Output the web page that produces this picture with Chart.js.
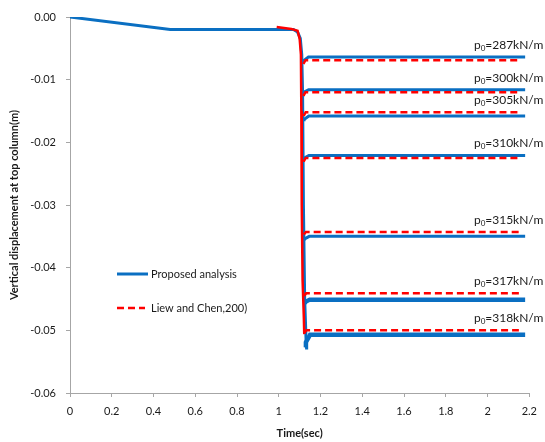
<!DOCTYPE html>
<html>
<head>
<meta charset="utf-8">
<script src="https://cdn.jsdelivr.net/npm/chart.js@4/dist/chart.umd.min.js"></script>
<style>
  html, body { margin: 0; padding: 0; background: #ffffff; }
  #wrap { width: 545px; height: 442px; position: relative; }
</style>
</head>
<body>
<div id="wrap"><canvas id="chart"></canvas></div>
<script>
// Load cases (kN/m) and the settled top-column displacement (m) after collapse
const loads = [287, 300, 305, 310, 315, 317, 318];
const proposedFinal = [-0.0064, -0.0116, -0.0158, -0.0221, -0.0350, -0.0451, -0.0507];
const liewFinal     = [-0.0069, -0.0120, -0.0152, -0.0225, -0.0343, -0.0441, -0.0500];

// Time at which each settled branch leaves the collapse line, and end of record
const proposedBranchT = [1.122, 1.123, 1.124, 1.124, 1.126, 1.128, 1.130];
const liewBranchT     = [1.118, 1.118, 1.119, 1.119, 1.120, 1.121, 1.122];
const proposedEndT = 2.18;
const liewEndT = 2.15;

// Overshoot below the settled level right after the collapse
const proposedDip = [0.0008, 0.0006, 0.0008, 0.0006, 0.0006, 0.0006, 0.0020];
const liewDip     = [0.0006, 0.0006, 0.0006, 0.0006, 0.0004, 0.0004, 0.0004];

// Common pre-collapse path (time, displacement)
const proposedPathT = [0, 0.48, 1.00, 1.07, 1.09, 1.103, 1.110, 1.114, 1.118, 1.124, 1.132];
const proposedPathY = [0, -0.0020, -0.0020, -0.0020, -0.0024, -0.0034, -0.0060, -0.0120, -0.0300, -0.0450, -0.0528];
const liewPathT = [0.99, 1.06, 1.09, 1.100, 1.106, 1.108, 1.110, 1.114, 1.120, 1.122];
const liewPathY = [-0.0016, -0.0019, -0.0022, -0.0035, -0.0060, -0.0150, -0.0300, -0.0420, -0.0480, -0.0506];

// Axis ticks
const timeTicks = [0, 0.2, 0.4, 0.6, 0.8, 1, 1.2, 1.4, 1.6, 1.8, 2, 2.2];
const dispTicks = [0, -0.01, -0.02, -0.03, -0.04, -0.05, -0.06];

const BLUE = '#0a6fc2';
const RED = '#ff0000';
const FONT = 'Lato, "Liberation Sans", sans-serif';

const pathPoints = (ts, ys) => ts.map((t, i) => ({ x: t, y: ys[i] }));

const proposedStyle = { borderColor: BLUE, backgroundColor: BLUE, borderWidth: 3, order: 2 };
const liewStyle = { borderColor: RED, backgroundColor: RED, borderWidth: 2.5, borderDash: [7, 4], order: 1 };

const datasets = [];
datasets.push(Object.assign({ label: 'Proposed analysis', data: pathPoints(proposedPathT, proposedPathY) }, proposedStyle));
datasets.push(Object.assign({ label: 'Liew and Chen,200)', data: pathPoints(liewPathT, liewPathY) }, liewStyle, { borderDash: [] }));

loads.forEach((p, i) => {
  const pv = proposedFinal[i], lv = liewFinal[i];
  datasets.push(Object.assign({
    label: 'Proposed ' + p,
    data: [
      { x: proposedBranchT[i] - 0.004, y: pv - proposedDip[i] },
      { x: proposedBranchT[i], y: pv - proposedDip[i] * 0.6 },
      { x: proposedBranchT[i] + 0.02, y: pv },
      { x: proposedEndT, y: pv }
    ]
  }, proposedStyle, { borderWidth: (p >= 317) ? 4.5 : 3 }));
  datasets.push(Object.assign({
    label: 'Liew ' + p,
    data: [
      { x: liewBranchT[i], y: lv - liewDip[i] },
      { x: liewBranchT[i] + 0.01, y: lv },
      { x: liewEndT, y: lv }
    ]
  }, liewStyle));
});

// In-plot legend for the two analyses
const legendBox = {
  id: 'legendBox',
  afterDatasetsDraw(chart) {
    const { ctx, chartArea } = chart;
    const x0 = chartArea.left + 47;
    const rows = [
      { y: chartArea.top + 257, text: 'Proposed analysis', style: proposedStyle, len: 31, gap: 3 },
      { y: chartArea.top + 291, text: 'Liew and Chen,200)', style: liewStyle, len: 28, gap: 6 }
    ];
    ctx.save();
    rows.forEach(r => {
      ctx.beginPath();
      ctx.strokeStyle = r.style.borderColor;
      ctx.lineWidth = r.style.borderWidth;
      ctx.setLineDash(r.style.borderDash || []);
      ctx.moveTo(x0, r.y);
      ctx.lineTo(x0 + r.len, r.y);
      ctx.stroke();
      ctx.setLineDash([]);
      ctx.fillStyle = '#1a1a1a';
      ctx.font = '11px ' + FONT;
      ctx.textBaseline = 'middle';
      ctx.textAlign = 'left';
      ctx.fillText(r.text, x0 + r.len + r.gap, r.y);
    });
    ctx.restore();
  }
};

// Load labels p0=...kN/m beside each settled branch
const loadLabels = {
  id: 'loadLabels',
  afterDatasetsDraw(chart) {
    const { ctx, chartArea, scales } = chart;
    const right = chartArea.right + 14;
    ctx.save();
    ctx.fillStyle = '#1a1a1a';
    ctx.textBaseline = 'alphabetic';
    ctx.textAlign = 'left';
    loads.forEach((p, i) => {
      const yTop = Math.min(scales.y.getPixelForValue(proposedFinal[i]), scales.y.getPixelForValue(liewFinal[i]));
      const base = yTop - 8;
      const main = '=' + p + 'kN/m';
      ctx.font = '12px ' + FONT;
      const wP = ctx.measureText('p').width;
      const wMain = ctx.measureText(main).width;
      ctx.font = '8px ' + FONT;
      const wSub = ctx.measureText('0').width;
      let x = right - (wP + wSub + wMain);
      ctx.font = '12px ' + FONT;
      ctx.fillText('p', x, base);
      x += wP;
      ctx.font = '8px ' + FONT;
      ctx.fillText('0', x, base + 2);
      x += wSub;
      ctx.font = '12px ' + FONT;
      ctx.fillText(main, x, base);
    });
    ctx.restore();
  }
};

new Chart(document.getElementById('chart'), {
  type: 'line',
  data: { datasets },
  options: {
    responsive: true,
    maintainAspectRatio: false,
    animation: false,
    parsing: true,
    layout: { padding: { top: 17, right: 15, left: 0, bottom: 0 } },
    elements: { point: { radius: 0 }, line: { tension: 0, borderCapStyle: 'butt' } },
    plugins: { legend: { display: false }, tooltip: { enabled: false } },
    scales: {
      x: {
        type: 'linear',
        min: 0, max: 2.2,
        afterBuildTicks: s => { s.ticks = timeTicks.map(v => ({ value: v })); },
        afterFit: s => { s.height = 49; },
        ticks: {
          color: '#1a1a1a', font: { family: FONT, size: 11 }, padding: 8, maxRotation: 0,
          callback: v => String(+v.toFixed(1))
        },
        grid: { drawOnChartArea: false, drawTicks: true, tickLength: 4, color: '#a6a6a6' },
        border: { color: '#a6a6a6', width: 1 },
        title: { display: true, text: 'Time(sec)', color: '#1a1a1a', font: { family: FONT, size: 11, weight: 'bold' }, padding: { top: 6, bottom: 2 } }
      },
      y: {
        type: 'linear',
        min: -0.06, max: 0,
        afterBuildTicks: s => { s.ticks = dispTicks.map(v => ({ value: v })); },
        afterFit: s => { s.width = 70; },
        ticks: {
          color: '#1a1a1a', font: { family: FONT, size: 11 }, padding: 10,
          callback: v => v.toFixed(2)
        },
        grid: { drawOnChartArea: false, drawTicks: true, tickLength: 4, color: '#a6a6a6' },
        border: { color: '#a6a6a6', width: 1 },
        title: { display: true, text: 'Vertical displacement at top column(m)', color: '#1a1a1a', font: { family: FONT, size: 11, weight: 'bold' }, padding: { top: 8, bottom: 0 } }
      }
    }
  },
  plugins: [legendBox, loadLabels]
});
</script>
</body>
</html>
